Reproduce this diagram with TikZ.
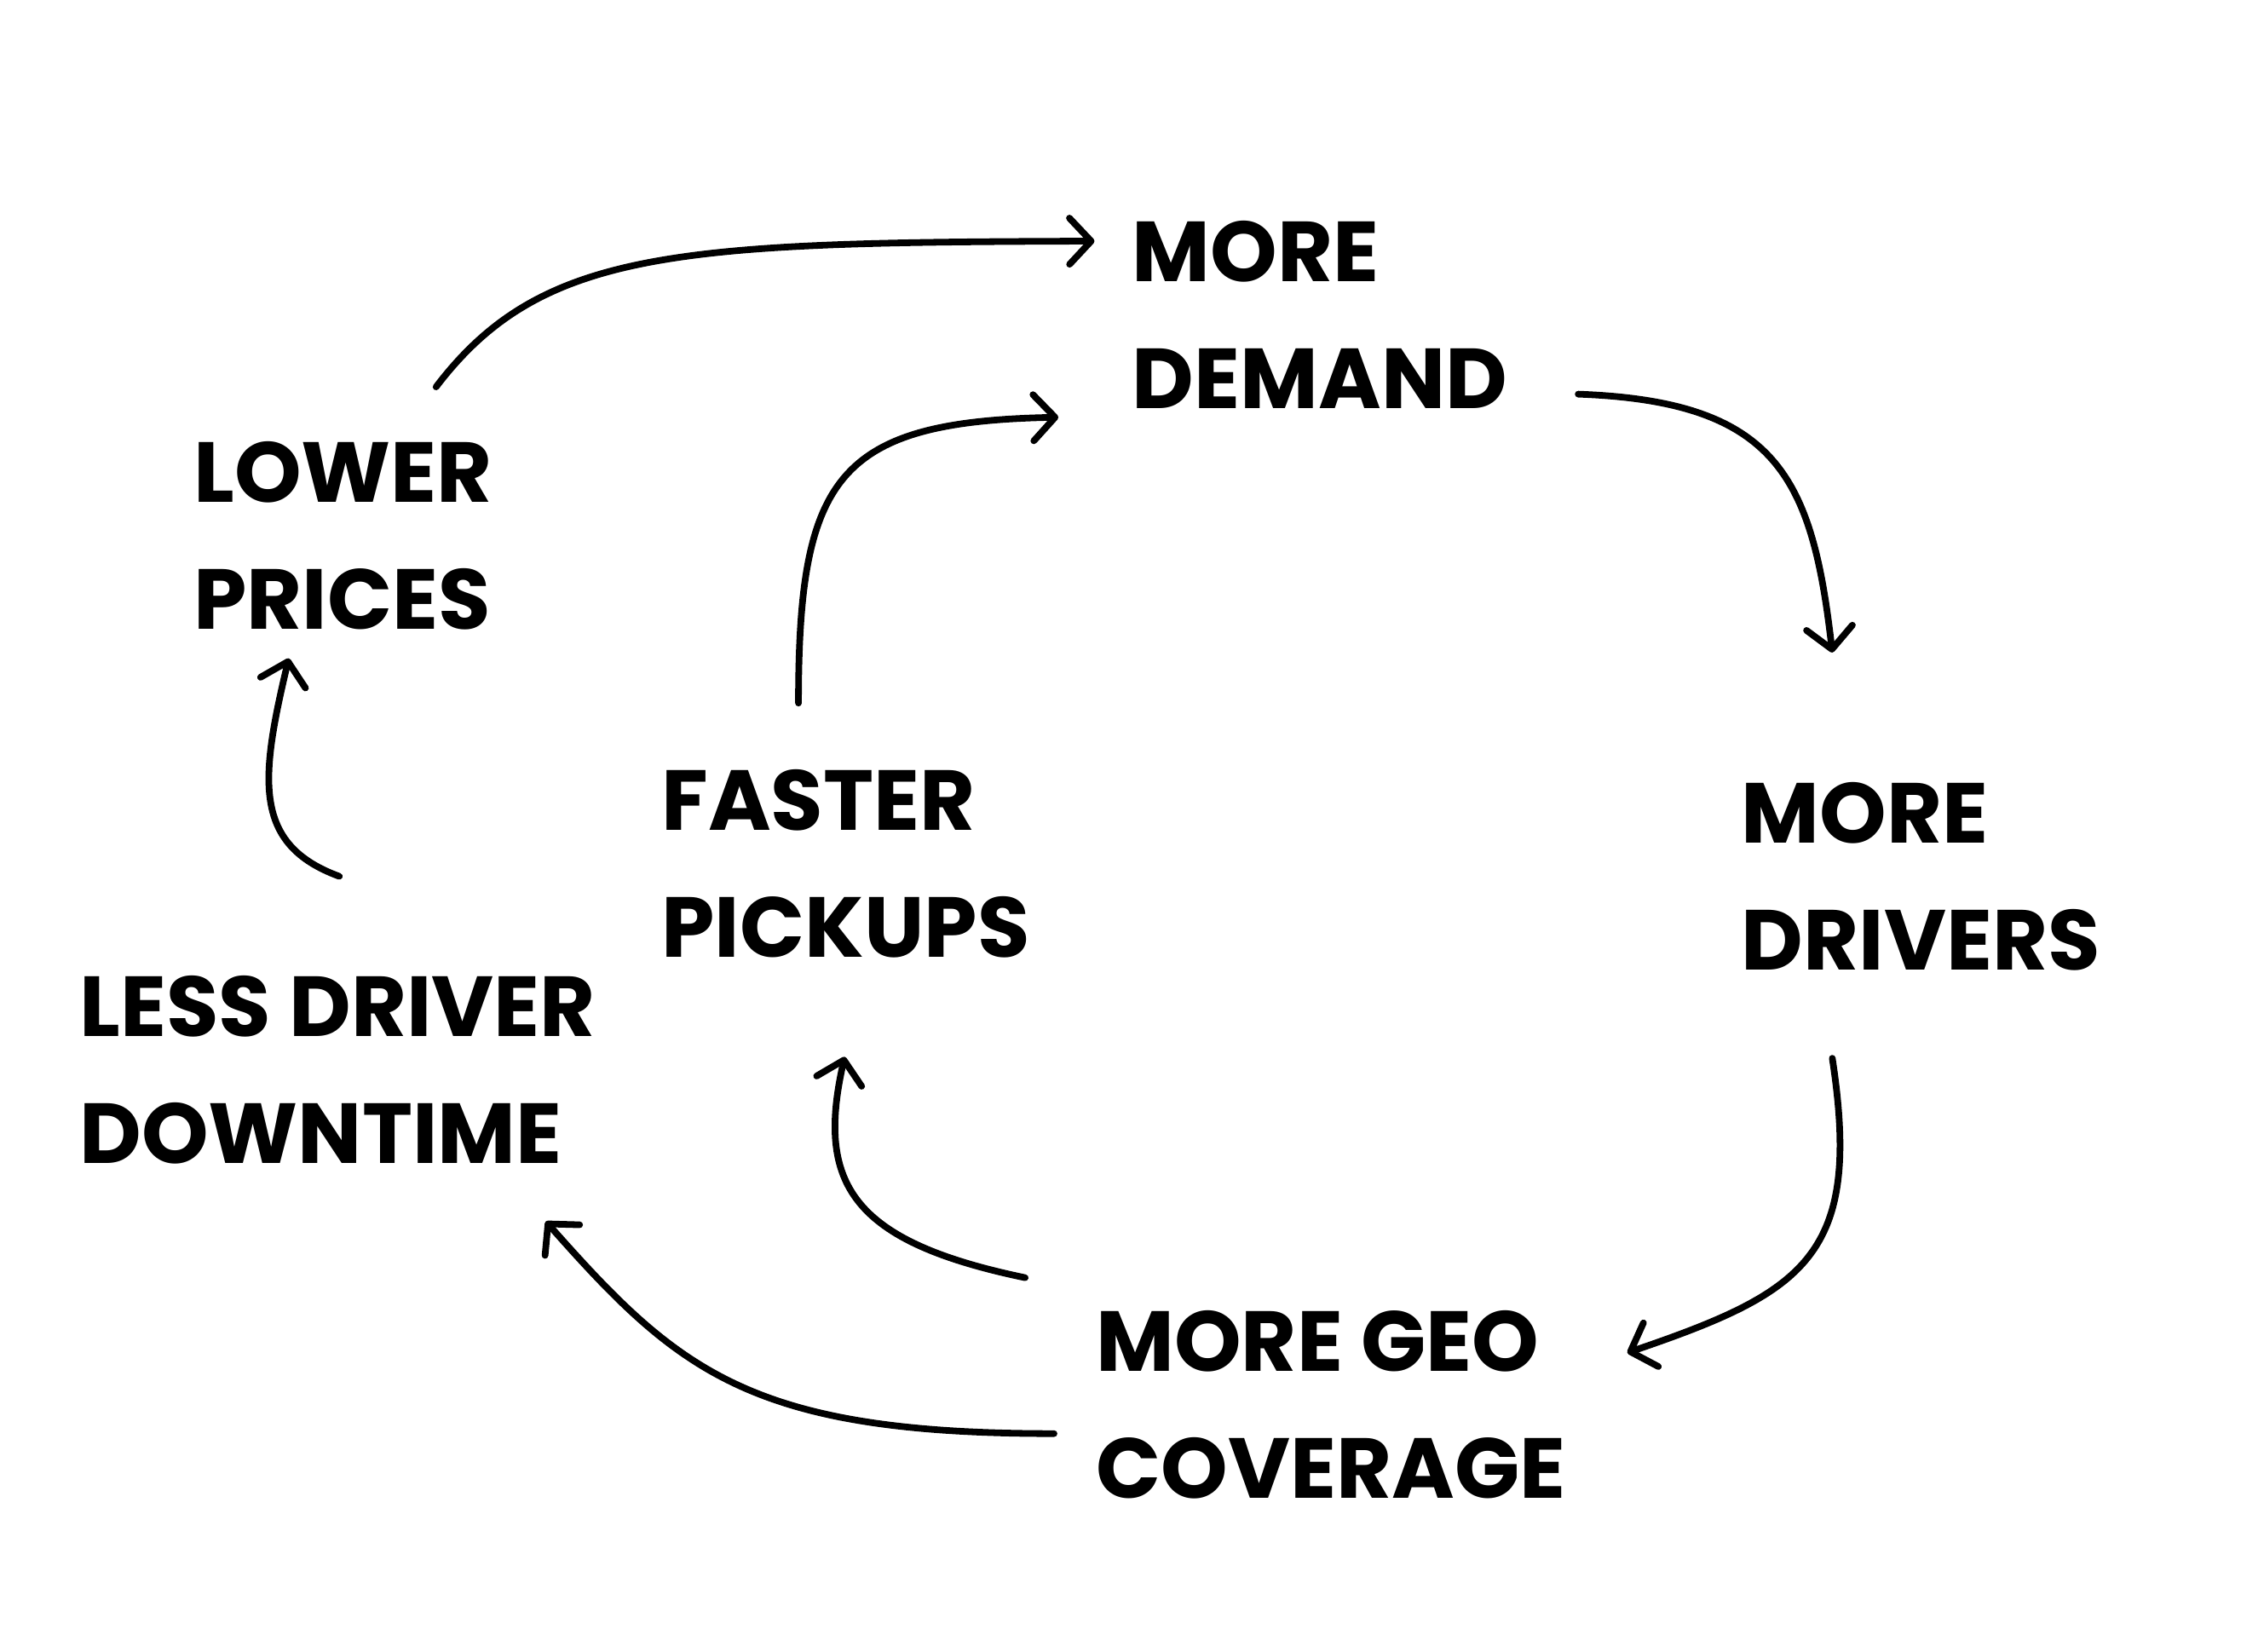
\documentclass[tikz,border=0pt]{standalone}
\usepackage{fontspec}
\setmainfont{Poppins}
\usetikzlibrary{arrows.meta}
\begin{document}
\begin{tikzpicture}[x=1pt,y=-1pt,
  lbl/.style={anchor=base west, align=left, inner sep=0pt, font=\bfseries\fontsize{59}{88}\selectfont},
  conn/.style={line width=4.6pt, line cap=round, -{Straight Barb[length=15pt,width=32pt,round]}}]
\useasboundingbox (0,0) rectangle (1568,1144);
% anchors at the baseline of the second line
\node[lbl] (md)  at (784,283)  {MORE\\DEMAND};
\node[lbl] (lp)  at (134,436)  {LOWER\\PRICES};
\node[lbl] (fp)  at (458,663)  {FASTER\\PICKUPS};
\node[lbl] (dr)  at (1206,672) {MORE\\DRIVERS};
\node[lbl] (ld)  at (55,806)   {LESS DRIVER\\DOWNTIME};
\node[lbl] (geo) at (759,1038) {MORE GEO\\COVERAGE};
% connector ends
\coordinate (lp-out) at (302,268);  \coordinate (md-in1) at (758,167);
\coordinate (fp-out) at (553,487);  \coordinate (md-in2) at (733,289);
\coordinate (md-out) at (1093,273); \coordinate (dr-in)  at (1269,452);
\coordinate (dr-out) at (1269,733); \coordinate (geo-in) at (1127,937);
\coordinate (geo-out1) at (710,885); \coordinate (fp-in) at (585,732);
\coordinate (geo-out2) at (730,993); \coordinate (ld-in) at (378,846);
\coordinate (ld-out) at (235,607);  \coordinate (lp-in)  at (200,456);
\draw[conn] (lp-out) .. controls (375,172) and (470,168) .. (md-in1);
\draw[conn] (fp-out) .. controls (553,330) and (580,292) .. (md-in2);
\draw[conn] (md-out) .. controls (1230,278) and (1255,330) .. (dr-in);
\draw[conn] (dr-out) .. controls (1290,870) and (1250,895) .. (geo-in);
\draw[conn] (geo-out1) .. controls (590,860) and (565,820) .. (fp-in);
\draw[conn] (geo-out2) .. controls (520,993) and (470,950) .. (ld-in);
\draw[conn] (ld-out) .. controls (175,585) and (180,540) .. (lp-in);
\end{tikzpicture}
\end{document}
